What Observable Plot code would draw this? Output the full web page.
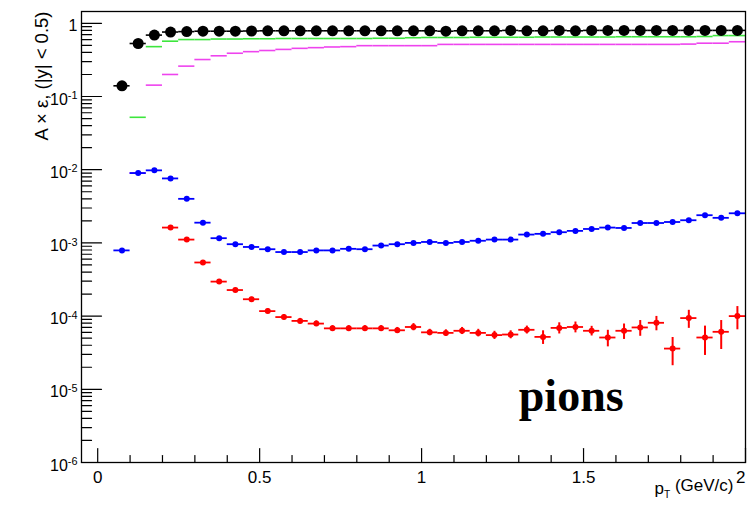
<!DOCTYPE html>
<html>
<head>
<meta charset="utf-8">
<script src="https://cdn.jsdelivr.net/npm/d3@7"></script>
<script src="https://cdn.jsdelivr.net/npm/@observablehq/plot@0.6"></script>
<style>
  body { margin: 0; background: #fff; }
  #chart { width: 747px; height: 506px; }
</style>
</head>
<body>
<div id="chart"></div>
<script>
// Bin centres in pT (GeV/c); every bin is 0.05 wide
const pT = [0.075,0.125,0.175,0.225,0.275,0.325,0.375,0.425,0.475,0.525,0.575,0.625,0.675,0.725,0.775,0.825,0.875,0.925,0.975,
            1.025,1.075,1.125,1.175,1.225,1.275,1.325,1.375,1.425,1.475,1.525,1.575,1.625,1.675,1.725,1.775,1.825,1.875,1.925,1.975];
const binWidth = 0.05;

// Acceptance x efficiency, |y| < 0.5
const accBlack = [0.14,0.53,0.69,0.76,0.77,0.78,0.78,0.78,0.785,0.79,0.79,0.79,0.79,0.79,0.79,0.79,0.79,0.79,0.79,
                  0.79,0.78,0.79,0.79,0.79,0.80,0.79,0.79,0.80,0.79,0.80,0.80,0.80,0.80,0.80,0.80,0.80,0.80,0.80,0.80];
const accGreen = [null,0.052,0.48,0.57,0.60,0.60,0.61,0.61,0.615,0.615,0.62,0.62,0.62,0.62,0.62,0.62,0.625,0.625,0.635,
                  0.64,0.64,0.64,0.645,0.645,0.645,0.645,0.65,0.65,0.65,0.65,0.65,0.655,0.655,0.655,0.655,0.655,0.66,0.68,0.68];
const accMagenta = [null,0.009,0.143,0.20,0.26,0.32,0.36,0.39,0.41,0.425,0.44,0.455,0.465,0.475,0.48,0.495,0.495,0.495,0.495,
                    0.495,0.515,0.515,0.515,0.515,0.515,0.515,0.515,0.515,0.515,0.515,0.515,0.515,0.515,0.515,0.515,0.52,0.535,0.535,0.56];
const accBlue = [7.9e-4,9.0e-3,9.8e-3,7.6e-3,4.0e-3,1.89e-3,1.16e-3,9.6e-4,8.8e-4,8.2e-4,7.5e-4,7.5e-4,7.9e-4,7.9e-4,8.3e-4,8.2e-4,9.2e-4,9.6e-4,1.0e-3,
                 1.03e-3,1.0e-3,1.03e-3,1.07e-3,1.11e-3,1.11e-3,1.30e-3,1.33e-3,1.40e-3,1.46e-3,1.55e-3,1.62e-3,1.60e-3,1.87e-3,1.87e-3,1.93e-3,2.04e-3,2.39e-3,2.2e-3,2.54e-3];
const accRed = [null,null,null,1.62e-3,1.11e-3,5.4e-4,2.96e-4,2.27e-4,1.70e-4,1.17e-4,9.7e-5,8.6e-5,7.9e-5,6.8e-5,6.8e-5,6.8e-5,6.8e-5,6.4e-5,7.1e-5,
                6.0e-5,5.9e-5,6.3e-5,5.9e-5,5.5e-5,5.6e-5,6.5e-5,5.2e-5,6.9e-5,7.1e-5,6.3e-5,5.1e-5,6.3e-5,7.0e-5,8.1e-5,3.6e-5,9.4e-5,5.1e-5,6.1e-5,1.0e-4];
const errRed = [null,null,null,6e-5,4.5e-5,2.5e-5,1.6e-5,1.3e-5,1.1e-5,9e-6,8e-6,7e-6,7e-6,6e-6,6e-6,6e-6,6e-6,6e-6,8e-6,
                6e-6,6e-6,7e-6,7e-6,7e-6,7e-6,8e-6,1.1e-5,1.2e-5,1.2e-5,9.5e-6,1.3e-5,1.5e-5,1.7e-5,1.8e-5,1.5e-5,2.6e-5,2.2e-5,2.6e-5,3.5e-5];

// Axes
const xDomain = [-0.05, 2.0];
const yDomain = [1e-6, 1.45];
const xMajor = [0, 0.5, 1, 1.5, 2];
const xLabels = ["0", "0.5", "1", "1.5", "2"];
const yMajor = [1e-6, 1e-5, 1e-4, 1e-3, 1e-2, 1e-1, 1];
const yLabels = ["10^-6", "10^-5", "10^-4", "10^-3", "10^-2", "10^-1", "1"];
const xTitle = "p_T (GeV/c)";
const yTitle = "A \u00d7 \u03b5, (|y| < 0.5)";
const tag = ["pions"];
const tagAt = [1.3, 8e-6];

const xMinor = d3.range(1, 20).map(k => k / 10).filter(v => !xMajor.includes(v));
const yMinor = yMajor.slice(0, -1).flatMap(p => d3.range(2, 10).map(m => m * p));

function rows(values, errs) {
  return pT.map((x, i) => ({x, y: values[i], e: errs ? errs[i] : 0})).filter(d => d.y != null);
}
const black = rows(accBlack), green = rows(accGreen), magenta = rows(accMagenta);
const blue = rows(accBlue), red = rows(accRed, errRed);

const tickShape = {draw(context, l) { context.moveTo(0, 0); context.lineTo(0, -l); }};
const yTick = (data, len) => Plot.vector(data, {x: () => xDomain[0], y: d => d, length: len, rotate: 90, anchor: "start", shape: tickShape, stroke: "#000", strokeWidth: 1.2});
const xTick = (data, len) => Plot.vector(data, {x: d => d, y: () => yDomain[0], length: len, rotate: 0, anchor: "start", shape: tickShape, stroke: "#000", strokeWidth: 1.2});
const hbar = (data, color, w) => Plot.ruleY(data, {y: "y", x1: d => d.x - binWidth / 2, x2: d => d.x + binWidth / 2, stroke: color, strokeWidth: w});

const GREEN = "#3de63d", MAGENTA = "#ee44ee", BLUE = "#0000ff", RED = "#ff0000";

const plot = Plot.plot({
  width: 747,
  height: 506,
  marginLeft: 81,
  marginRight: 2,
  marginTop: 11,
  marginBottom: 44,
  x: {domain: xDomain},
  y: {type: "log", domain: yDomain},
  style: {fontFamily: "'Liberation Sans', Arial, Helvetica, sans-serif", color: "#000", background: "#fff"},
  marks: [
    yTick(yMajor, 20),
    yTick(yMinor, 10),
    xTick(xMajor, 14),
    xTick(xMinor, 7),
    Plot.axisY({ticks: yMajor, tickSize: 0, tickPadding: 4, fontSize: 16, dy: 3, label: null,
                tickFormat: d => yLabels[yMajor.indexOf(d)]}),
    Plot.axisX({ticks: xMajor, tickSize: 0, tickPadding: 8, fontSize: 17, label: null,
                tickFormat: d => xLabels[xMajor.indexOf(d)]}),
    hbar(green, GREEN, 1.6),
    hbar(magenta, MAGENTA, 1.6),
    hbar(blue, BLUE, 1.8),
    Plot.dot(blue, {x: "x", y: "y", r: 3, fill: BLUE}),
    hbar(red, RED, 1.8),
    Plot.ruleX(red, {x: "x", y1: d => d.y - d.e, y2: d => d.y + d.e, stroke: RED, strokeWidth: 2}),
    Plot.dot(red, {x: "x", y: "y", r: 3, fill: RED}),
    hbar(black, "#000", 1.6),
    Plot.dot(black, {x: "x", y: "y", r: 5.5, fill: "#000"}),
    Plot.text(tag, {x: () => tagAt[0], y: () => tagAt[1], textAnchor: "start", fontSize: 46, fontWeight: "bold",
                    fontFamily: "'Liberation Serif', 'Times New Roman', serif"}),
    Plot.text([xTitle], {frameAnchor: "bottom-right", textAnchor: "end", dx: -12, dy: 31, fontSize: 17}),
    Plot.text([yTitle], {frameAnchor: "top-left", textAnchor: "end", rotate: -90, dx: -47, fontSize: 18.5}),
    Plot.frame({stroke: "#000", strokeWidth: 1.3})
  ]
});
document.getElementById("chart").append(plot);

const texts = d3.select(plot).selectAll("text");

// Powers of ten as superscripts
texts.filter(function() { return yLabels.includes(this.textContent) && this.textContent.includes("^"); })
  .each(function() {
    const [base, exp] = this.textContent.split("^");
    const t = d3.select(this).text(null);
    t.append("tspan").text(base);
    t.append("tspan").attr("dy", "-0.5em").attr("font-size", "0.68em").text(exp);
  });

// The last x label sits at the right edge: keep it inside the picture
texts.filter(function() { return this.textContent === xLabels[xLabels.length - 1]; })
  .attr("text-anchor", "end");

// Subscript in the pT axis title
texts.filter(function() { return this.textContent === xTitle; })
  .each(function() {
    const [base, rest] = this.textContent.split("_");
    const t = d3.select(this).text(null);
    t.append("tspan").text(base);
    t.append("tspan").attr("dy", "0.4em").attr("font-size", "0.6em").text(rest.slice(0, 1));
    t.append("tspan").attr("dy", "-0.4em").text(rest.slice(1));
  });
</script>
</body>
</html>
